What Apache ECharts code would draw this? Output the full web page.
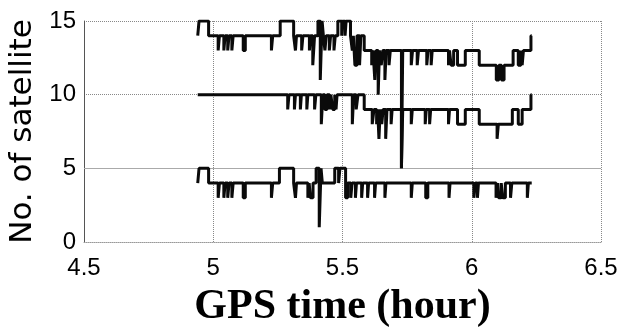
<!DOCTYPE html>
<html>
<head>
<meta charset="utf-8">
<script src="https://cdn.jsdelivr.net/npm/echarts@6/dist/echarts.min.js"></script>
<style>
  html, body { margin: 0; padding: 0; background: #fff; }
  #chart { width: 618px; height: 327px; }
</style>
</head>
<body>
<div id="chart"></div>
<script>
// x ticks (hours) and y ticks (satellite count)
const xTicks = [4.5, 5, 5.5, 6, 6.5];
const yTicks = [0, 5, 10, 15];

// step data: [GPS time (hour), number of satellites], value held until next point
const upperSeries = [
  [4.940, 14], [4.945, 15], [4.982, 14],
  [5.019, 13], [5.024, 14], [5.041, 13], [5.046, 14],
  [5.056, 13], [5.061, 14], [5.072, 13], [5.077, 14],
  [5.116, 13], [5.124, 14], [5.225, 13], [5.230, 14],
  [5.259, 15], [5.311, 14],
  [5.318, 13], [5.322, 14], [5.342, 13], [5.347, 14],
  [5.372, 13], [5.376, 14], [5.385, 12], [5.392, 14],
  [5.405, 15], [5.414, 11], [5.421, 15], [5.426, 14],
  [5.432, 13], [5.437, 14], [5.449, 13], [5.454, 14],
  [5.467, 13], [5.472, 14],
  [5.482, 15], [5.497, 14], [5.500, 15], [5.510, 14], [5.514, 15], [5.531, 14],
  [5.538, 13], [5.542, 14], [5.548, 12], [5.556, 14],
  [5.566, 12], [5.571, 14],
  [5.584, 13],
  [5.613, 12], [5.618, 13], [5.625, 11], [5.630, 13],
  [5.638, 10], [5.643, 13], [5.650, 12], [5.656, 13],
  [5.664, 11], [5.669, 13], [5.680, 12], [5.685, 13],
  [5.728, 5], [5.733, 13],
  [5.766, 12], [5.771, 13], [5.789, 12], [5.794, 13],
  [5.826, 12], [5.831, 13], [5.843, 12], [5.847, 13],
  [5.910, 12], [5.914, 13], [5.920, 12], [5.930, 13],
  [5.945, 12], [5.975, 13],
  [6.029, 12],
  [6.095, 11], [6.105, 12], [6.115, 11], [6.125, 12],
  [6.160, 13],
  [6.180, 12], [6.190, 13], [6.195, 12], [6.200, 13],
  [6.229, 14], [6.232, 14]
];

const middleSeries = [
  [4.940, 10],
  [5.288, 9], [5.293, 10], [5.314, 9], [5.318, 10],
  [5.337, 9], [5.341, 10], [5.362, 9], [5.366, 10],
  [5.392, 9], [5.397, 10], [5.418, 8], [5.424, 10],
  [5.432, 9], [5.440, 10], [5.450, 9], [5.455, 10],
  [5.462, 9], [5.470, 10], [5.475, 9], [5.479, 10],
  [5.538, 8], [5.543, 10], [5.553, 9], [5.560, 10],
  [5.584, 9],
  [5.615, 8], [5.622, 9], [5.632, 8], [5.636, 9],
  [5.641, 7], [5.646, 9], [5.652, 8], [5.657, 9],
  [5.667, 7], [5.672, 9], [5.688, 8], [5.692, 9],
  [5.728, 5], [5.733, 9],
  [5.766, 8], [5.770, 9], [5.820, 8], [5.824, 9],
  [5.837, 8], [5.841, 9], [5.910, 8], [5.914, 9],
  [5.945, 8], [5.975, 9],
  [6.029, 8],
  [6.098, 7], [6.103, 8],
  [6.157, 9],
  [6.180, 8], [6.195, 9],
  [6.229, 10], [6.232, 10]
];

const lowerSeries = [
  [4.940, 4], [4.945, 5], [4.982, 4],
  [5.019, 3], [5.024, 4], [5.041, 3], [5.046, 4],
  [5.056, 3], [5.061, 4], [5.072, 3], [5.077, 4],
  [5.116, 3], [5.124, 4], [5.225, 3], [5.230, 4],
  [5.256, 5], [5.311, 4],
  [5.318, 3], [5.322, 4], [5.366, 3], [5.371, 4],
  [5.376, 3], [5.386, 4],
  [5.398, 5], [5.410, 1], [5.417, 5], [5.422, 4],
  [5.470, 5], [5.485, 4], [5.490, 5], [5.512, 3], [5.520, 4],
  [5.532, 3], [5.537, 4], [5.550, 3], [5.554, 4],
  [5.574, 3], [5.578, 4], [5.597, 3], [5.601, 4],
  [5.624, 3], [5.628, 4], [5.664, 3], [5.668, 4],
  [5.766, 3], [5.770, 4], [5.822, 3], [5.830, 4],
  [5.912, 3], [5.916, 4], [6.008, 3], [6.014, 4],
  [6.022, 3], [6.026, 4], [6.094, 3], [6.100, 4],
  [6.104, 3], [6.114, 4], [6.120, 3], [6.130, 4],
  [6.150, 3], [6.155, 4], [6.215, 3], [6.219, 4],
  [6.232, 4]
];

const chart = echarts.init(document.getElementById("chart"));

const stepLine = (data) => ({
  type: "line",
  step: "end",
  data: data,
  symbol: "none",
  lineStyle: { color: "#0a0a0a", width: 3 },
  animation: false
});

const option = {
  backgroundColor: "#fff",
  grid: {
    left: 84, right: 17, top: 21, bottom: 85,
    containLabel: false,
    outerBoundsMode: "none"
  },
  xAxis: {
    type: "value",
    min: xTicks[0],
    max: xTicks[xTicks.length - 1],
    interval: 0.5,
    name: "GPS time (hour)",
    nameLocation: "middle",
    nameGap: 44,
    nameTextStyle: {
      fontFamily: "Liberation Serif",
      fontWeight: "bold",
      fontSize: 42,
      color: "#000"
    },
    axisLine: { lineStyle: { color: "#999", type: "dotted", width: 1 } },
    axisTick: { show: false },
    axisLabel: {
      margin: 14,
      fontFamily: "Liberation Sans Narrow, Liberation Sans",
      fontSize: 24,
      color: "#000",
      formatter: (v) => String(v)
    },
    splitLine: { show: true, lineStyle: { color: "#888", type: "dotted", width: 1 } }
  },
  yAxis: {
    type: "value",
    min: yTicks[0],
    max: yTicks[yTicks.length - 1],
    interval: 5,
    name: "No. of satellite",
    nameLocation: "middle",
    nameGap: 46,
    nameTextStyle: {
      fontFamily: "DejaVu Sans",
      fontSize: 31,
      color: "#000"
    },
    axisLine: { show: true, lineStyle: { color: "#555", width: 1 } },
    axisTick: { show: false },
    axisLabel: {
      margin: 8,
      fontFamily: "Liberation Sans Narrow, Liberation Sans",
      fontSize: 24,
      color: "#000"
    },
    splitLine: { show: true, lineStyle: { color: "#888", type: "dotted", width: 1 } }
  },
  series: [
    Object.assign(stepLine(lowerSeries), {
      markLine: {
        silent: true,
        symbol: "none",
        label: { show: false },
        lineStyle: { color: "#aaa", type: "solid", width: 1 },
        data: [{ yAxis: yTicks[1] }],
        z: 1
      }
    }),
    stepLine(middleSeries),
    stepLine(upperSeries)
  ]
};

chart.setOption(option);
</script>
</body>
</html>
